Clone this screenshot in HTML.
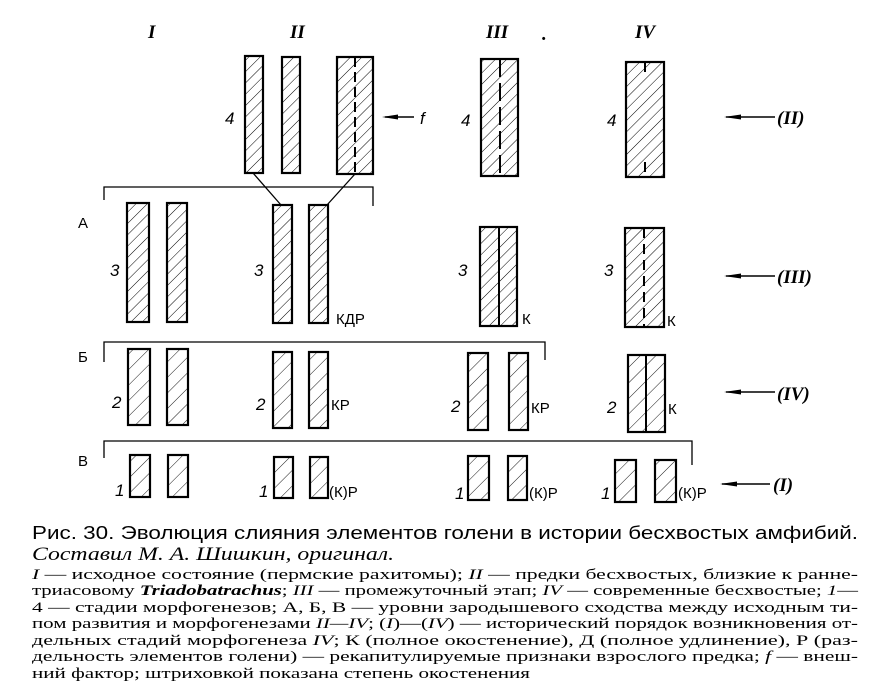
<!DOCTYPE html>
<html><head><meta charset="utf-8">
<style>
html,body{margin:0;padding:0;background:#fff;}
svg{display:block;}
.n{font-family:"Liberation Sans",sans-serif;font-size:17px;font-style:italic;}
.k{font-family:"Liberation Sans",sans-serif;font-size:15px;}
.h{font-family:"Liberation Serif",serif;font-size:19px;font-style:italic;font-weight:bold;}
.c1{font-family:"Liberation Sans",sans-serif;font-size:18px;}
.c2{font-family:"Liberation Serif",serif;font-size:19px;font-style:italic;}
.s{font-family:"Liberation Serif",serif;font-size:15px;}
</style></head><body>
<svg width="882" height="700" viewBox="0 0 882 700" xmlns="http://www.w3.org/2000/svg">
<defs>
<pattern id="hp" patternUnits="userSpaceOnUse" width="8" height="8" patternTransform="rotate(45)">
<line x1="0" y1="0" x2="0" y2="8" stroke="#000" stroke-width="1"/>
</pattern>
<pattern id="hq" patternUnits="userSpaceOnUse" width="11" height="11" patternTransform="rotate(45)">
<line x1="0" y1="0" x2="0" y2="11" stroke="#000" stroke-width="0.9"/>
</pattern>
</defs>

<!-- headers -->
<text class="h" x="148" y="38">I</text>
<text class="h" x="290" y="38">II</text>
<text class="h" x="486" y="38">III</text>
<text class="h" x="635" y="38">IV</text>
<text class="h" x="542" y="40" font-size="14">.</text>

<g stroke="#000" stroke-width="2.2" fill="url(#hp)">
<rect x="245" y="56" width="18" height="117"/>
<rect x="282" y="57" width="18" height="116"/>
<rect x="337" y="57" width="36" height="117"/>
<rect x="481" y="59" width="37" height="117"/>
<rect x="626" y="62" width="38" height="115"/>
<rect x="127" y="203" width="22" height="119"/>
<rect x="167" y="203" width="20" height="119"/>
<rect x="273" y="205" width="19" height="118"/>
<rect x="309" y="205" width="19" height="118"/>
<rect x="480" y="227" width="37" height="99"/>
<rect x="625" y="228" width="39" height="99"/>
</g>
<g stroke="#000" stroke-width="2.2" fill="url(#hq)">
<rect x="128" y="349" width="22" height="76"/>
<rect x="167" y="349" width="21" height="76"/>
<rect x="273" y="352" width="19" height="76"/>
<rect x="309" y="352" width="19" height="76"/>
<rect x="468" y="353" width="20" height="77"/>
<rect x="509" y="353" width="19" height="77"/>
<rect x="628" y="355" width="37" height="77"/>
<rect x="130" y="455" width="20" height="42"/>
<rect x="168" y="455" width="20" height="42"/>
<rect x="274" y="457" width="19" height="41"/>
<rect x="310" y="457" width="18" height="41"/>
<rect x="468" y="456" width="21" height="44"/>
<rect x="508" y="456" width="19" height="44"/>
<rect x="615" y="460" width="21" height="42"/>
<rect x="655" y="460" width="21" height="42"/>
</g>

<g stroke="#000" stroke-width="2">
<line x1="355" y1="57" x2="355" y2="174" stroke-dasharray="10,5"/>
<line x1="500" y1="59" x2="500" y2="176" stroke-dasharray="18,6"/>
<line x1="645" y1="62" x2="645" y2="177" stroke-dasharray="10,90"/>
<line x1="499" y1="227" x2="499" y2="326"/>
<line x1="644" y1="228" x2="644" y2="327" stroke-dasharray="10,6"/>
<line x1="646" y1="355" x2="646" y2="432"/>
</g>

<g stroke="#000" stroke-width="1.3" fill="none">
<polyline points="104,200 104,187 373,187 373,206"/>
<polyline points="104,362 104,342 545,342 545,360"/>
<polyline points="104,458 104,441 692,441 692,465"/>
<line x1="253" y1="173" x2="281" y2="205"/>
<line x1="355" y1="174" x2="327" y2="205"/>
</g>

<!-- arrows -->
<g stroke="#000" stroke-width="1.4">
<line x1="414" y1="117" x2="385" y2="117"/>
<line x1="775" y1="117" x2="726" y2="117"/>
<line x1="775" y1="276" x2="726" y2="276"/>
<line x1="775" y1="392" x2="726" y2="392"/>
<line x1="770" y1="484" x2="722" y2="484"/>
</g>
<g fill="#000">
<polygon points="382,117 398,114.5 398,119.5"/>
<polygon points="724,117 741,114.5 741,119.5"/>
<polygon points="724,276 741,273.5 741,278.5"/>
<polygon points="724,392 741,389.5 741,394.5"/>
<polygon points="720,484 737,481.5 737,486.5"/>
</g>
<text class="n" x="420" y="124" font-family="Liberation Serif">f</text>
<text class="h" x="777" y="124">(II)</text>
<text class="h" x="777" y="283">(III)</text>
<text class="h" x="777" y="400">(IV)</text>
<text class="h" x="773" y="491">(I)</text>

<text class="k" x="78" y="228" font-size="16">А</text>
<text class="k" x="78" y="362" font-size="16">Б</text>
<text class="k" x="78" y="466" font-size="16">В</text>

<text class="n" x="225" y="124">4</text>
<text class="n" x="461" y="126">4</text>
<text class="n" x="607" y="126">4</text>
<text class="n" x="110" y="276">3</text>
<text class="n" x="254" y="276">3</text>
<text class="n" x="458" y="276">3</text>
<text class="n" x="604" y="276">3</text>
<text class="n" x="112" y="408">2</text>
<text class="n" x="256" y="410">2</text>
<text class="n" x="451" y="412">2</text>
<text class="n" x="607" y="413">2</text>
<text class="n" x="115" y="496">1</text>
<text class="n" x="259" y="497">1</text>
<text class="n" x="455" y="499">1</text>
<text class="n" x="601" y="499">1</text>

<text class="k" x="336" y="324">КДР</text>
<text class="k" x="522" y="324">К</text>
<text class="k" x="667" y="326">К</text>
<text class="k" x="331" y="410">КР</text>
<text class="k" x="531" y="413">КР</text>
<text class="k" x="668" y="414">К</text>
<text class="k" x="329" y="497">(К)Р</text>
<text class="k" x="529" y="498">(К)Р</text>
<text class="k" x="678" y="498">(К)Р</text>

<text class="c1" x="32" y="539" textLength="826" lengthAdjust="spacingAndGlyphs">Рис. 30. Эволюция слияния элементов голени в истории бесхвостых амфибий.</text>
<text class="c2" x="32" y="560" textLength="362" lengthAdjust="spacingAndGlyphs">Составил М. А. Шишкин, оригинал.</text>
<g class="s">
<text x="32" y="579" textLength="826" lengthAdjust="spacingAndGlyphs"><tspan font-style="italic">I</tspan> — исходное состояние (пермские рахитомы); <tspan font-style="italic">II</tspan> — предки бесхвостых, близкие к ранне-</text>
<text x="32" y="595" textLength="826" lengthAdjust="spacingAndGlyphs">триасовому <tspan font-style="italic" font-weight="bold">Triadobatrachus</tspan>; <tspan font-style="italic">III</tspan> — промежуточный этап; <tspan font-style="italic">IV</tspan> — современные бесхвостые; <tspan font-style="italic">1</tspan>—</text>
<text x="32" y="612" textLength="826" lengthAdjust="spacingAndGlyphs">4 — стадии морфогенезов; А, Б, В — уровни зародышевого сходства между исходным ти-</text>
<text x="32" y="628" textLength="826" lengthAdjust="spacingAndGlyphs">пом развития и морфогенезами <tspan font-style="italic">II—IV</tspan>; (<tspan font-style="italic">I</tspan>)—(<tspan font-style="italic">IV</tspan>) — исторический порядок возникновения от-</text>
<text x="32" y="645" textLength="826" lengthAdjust="spacingAndGlyphs">дельных стадий морфогенеза <tspan font-style="italic">IV</tspan>; К (полное окостенение), Д (полное удлинение), Р (раз-</text>
<text x="32" y="661" textLength="826" lengthAdjust="spacingAndGlyphs">дельность элементов голени) — рекапитулируемые признаки взрослого предка; <tspan font-style="italic">f</tspan> — внеш-</text>
<text x="32" y="678" textLength="498" lengthAdjust="spacingAndGlyphs">ний фактор; штриховкой показана степень окостенения</text>
</g>
</svg>
</body></html>
